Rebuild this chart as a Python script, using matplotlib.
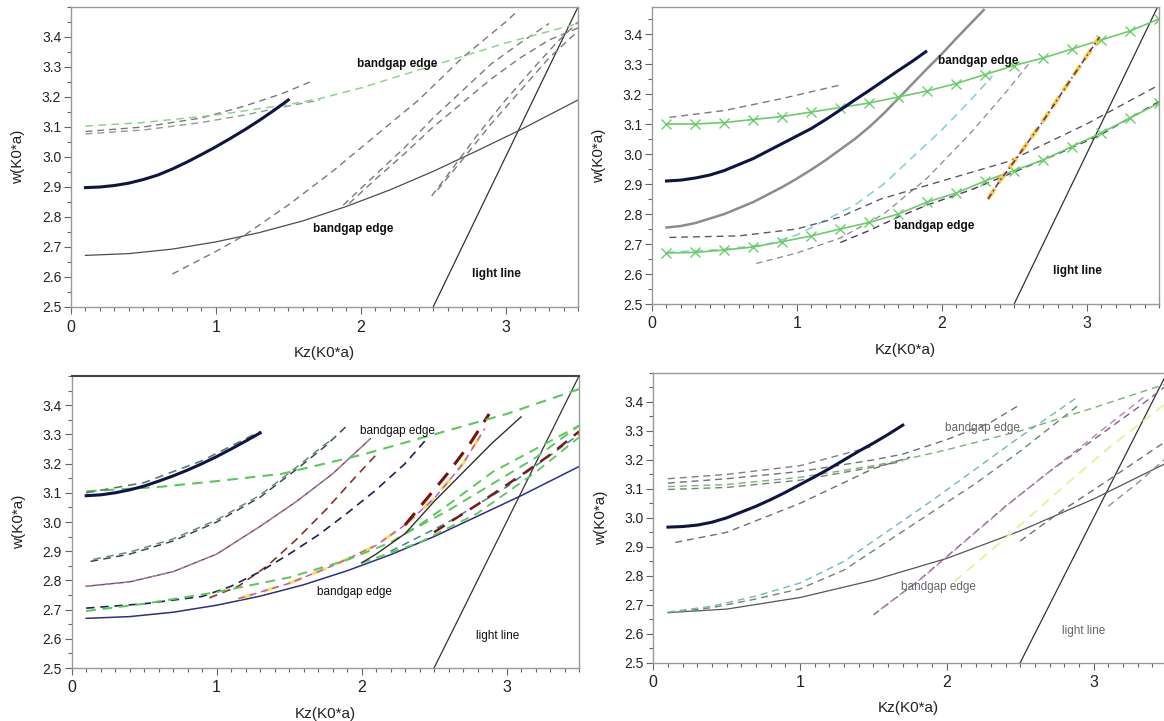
import matplotlib
matplotlib.use("Agg")
import matplotlib.pyplot as plt
from matplotlib.ticker import MultipleLocator, FixedLocator

plt.rcParams["font.family"] = ["Liberation Sans", "DejaVu Sans"]

# ---------------- data ----------------
light_kz = [2.5, 3.5]
light_w = [2.5, 3.5]

# panel 1 (top left)
p1_navy_kz = [0.1, 0.2, 0.3, 0.4, 0.5, 0.6, 0.7, 0.8, 0.9, 1.0, 1.1, 1.2, 1.3, 1.4, 1.5]
p1_navy_w = [2.898, 2.900, 2.905, 2.913, 2.925, 2.94, 2.96, 2.983, 3.008, 3.034, 3.062,
             3.091, 3.122, 3.155, 3.19]
p1_edge_kz = [0.1, 0.4, 0.7, 1.0, 1.3, 1.6, 1.9, 2.2, 2.5, 2.8, 3.1, 3.5]
p1_edge_w = [2.672, 2.678, 2.693, 2.717, 2.748, 2.787, 2.835, 2.89, 2.952, 3.02, 3.09, 3.19]
p1_green_kz = [0.1, 0.5, 1.0, 1.5, 1.72, 2.0, 2.5, 3.0, 3.5]
p1_green_w = [3.103, 3.115, 3.14, 3.175, 3.195, 3.23, 3.305, 3.38, 3.445]
p1_da_kz = [0.1, 0.5, 0.9, 1.2, 1.45, 1.65]
p1_da_w = [3.085, 3.10, 3.13, 3.17, 3.21, 3.25]
p1_db_kz = [0.1, 0.5, 0.9, 1.2, 1.5, 1.72]
p1_db_w = [3.077, 3.09, 3.115, 3.14, 3.17, 3.19]
p1_dc_kz = [0.7, 1.0, 1.2, 1.5, 1.8, 2.1, 2.4, 2.7, 3.0, 3.09]
p1_dc_w = [2.61, 2.685, 2.74, 2.84, 2.95, 3.07, 3.19, 3.33, 3.45, 3.49]
p1_dd_kz = [1.88, 2.1, 2.3, 2.5, 2.7, 2.9, 3.1, 3.3]
p1_dd_w = [2.84, 2.94, 3.03, 3.13, 3.22, 3.31, 3.38, 3.445]
p1_de_kz = [1.92, 2.1, 2.3, 2.5, 2.7, 2.9, 3.1, 3.3, 3.5]
p1_de_w = [2.845, 2.925, 3.01, 3.10, 3.18, 3.26, 3.33, 3.39, 3.43]
p1_df_kz = [2.49, 2.6, 2.8, 3.0, 3.2, 3.35, 3.5]
p1_df_w = [2.87, 2.94, 3.07, 3.19, 3.30, 3.38, 3.45]
p1_dg_kz = [2.53, 2.7, 2.9, 3.1, 3.3, 3.5]
p1_dg_w = [2.89, 2.99, 3.11, 3.22, 3.33, 3.42]

# panel 2 (top right)
p2_navy_kz = [0.1, 0.2, 0.3, 0.4, 0.5, 0.6, 0.7, 0.8, 0.9, 1.0, 1.1, 1.2, 1.3, 1.4, 1.5,
              1.6, 1.7, 1.8, 1.89]
p2_navy_w = [2.91, 2.913, 2.92, 2.93, 2.945, 2.965, 2.985, 3.01, 3.035, 3.06, 3.085, 3.115,
             3.147, 3.18, 3.212, 3.245, 3.278, 3.31, 3.341]
p2_gray_kz = [0.1, 0.2, 0.3, 0.4, 0.5, 0.6, 0.7, 0.8, 0.9, 1.0, 1.1, 1.2, 1.3, 1.4, 1.5,
              1.6, 1.7, 1.8, 1.9, 2.0, 2.1, 2.2, 2.29]
p2_gray_w = [2.755, 2.76, 2.77, 2.785, 2.80, 2.82, 2.84, 2.865, 2.89, 2.918, 2.948, 2.98,
             3.015, 3.05, 3.09, 3.135, 3.185, 3.235, 3.285, 3.333, 3.385, 3.435, 3.48]
p2_gx_kz = [0.1, 0.3, 0.5, 0.7, 0.9, 1.1, 1.3, 1.5, 1.7, 1.9, 2.1, 2.3, 2.5, 2.7, 2.9, 3.1, 3.3, 3.5]
p2_gx_up_w = [3.10, 3.10, 3.105, 3.115, 3.125, 3.14, 3.155, 3.17, 3.19, 3.21, 3.235, 3.265,
              3.295, 3.32, 3.35, 3.38, 3.41, 3.45]
p2_gx_lo_w = [2.67, 2.672, 2.68, 2.69, 2.708, 2.727, 2.75, 2.772, 2.80, 2.84, 2.87, 2.91,
              2.945, 2.98, 3.025, 3.07, 3.12, 3.17]
p2_dup_kz = [0.12, 0.5, 0.9, 1.3]
p2_dup_w = [3.122, 3.145, 3.185, 3.23]
p2_teal_kz = [0.1, 0.5, 0.8, 1.0, 1.2, 1.4, 1.6, 1.8, 2.0, 2.2, 2.35]
p2_teal_w = [2.672, 2.682, 2.70, 2.73, 2.78, 2.83, 2.90, 2.99, 3.08, 3.18, 3.26]
p2_dg_kz = [0.72, 1.0, 1.3, 1.6, 1.9, 2.2, 2.45, 2.6]
p2_dg_w = [2.635, 2.67, 2.72, 2.80, 2.92, 3.07, 3.21, 3.30]
p2_flat_kz = [0.12, 0.6, 1.0, 1.3, 1.58, 2.0, 2.46, 3.0, 3.5]
p2_flat_w = [2.722, 2.727, 2.75, 2.79, 2.85, 2.91, 2.975, 3.10, 3.23]
p2_purp_kz = [1.3, 1.5, 1.7, 1.9, 2.2, 2.5, 2.8, 3.1, 3.5]
p2_purp_w = [2.705, 2.745, 2.79, 2.83, 2.88, 2.94, 3.00, 3.065, 3.175]
p2_yel_kz = [2.32, 2.4, 2.5, 2.7, 2.9, 3.09]
p2_yel_w = [2.85, 2.91, 2.975, 3.11, 3.255, 3.39]

# panel 3 (bottom left)
p3_navy_kz = [0.1, 0.2, 0.3, 0.4, 0.5, 0.6, 0.7, 0.8, 0.9, 1.0, 1.1, 1.2, 1.3]
p3_navy_w = [3.09, 3.093, 3.10, 3.11, 3.123, 3.14, 3.158, 3.178, 3.20, 3.224, 3.25, 3.277, 3.305]
p3_navyd_kz = [0.1, 0.5, 0.9, 1.3]
p3_navyd_w = [3.10, 3.135, 3.21, 3.31]
p3_green_kz = [0.1, 0.6, 1.0, 1.45, 2.0, 2.5, 3.0, 3.5]
p3_green_w = [3.105, 3.12, 3.14, 3.165, 3.23, 3.30, 3.37, 3.455]
p3_d1_kz = [0.13, 0.4, 0.7, 1.0, 1.3, 1.55, 1.75, 1.9]
p3_d1_w = [2.865, 2.89, 2.935, 3.0, 3.085, 3.18, 3.26, 3.33]
p3_d1b_kz = [0.15, 0.4, 0.7, 1.0, 1.3, 1.55, 1.75, 1.82]
p3_d1b_w = [2.872, 2.897, 2.942, 3.007, 3.092, 3.187, 3.267, 3.29]
p3_mauve_kz = [0.1, 0.4, 0.7, 1.0, 1.3, 1.55, 1.8, 2.06]
p3_mauve_w = [2.78, 2.795, 2.83, 2.89, 2.985, 3.07, 3.165, 3.285]
p3_red_kz = [0.95, 1.15, 1.35, 1.55, 1.75, 1.95, 2.1]
p3_red_w = [2.74, 2.78, 2.85, 2.94, 3.04, 3.15, 3.23]
p3_nd_kz = [0.1, 0.5, 0.9, 1.1, 1.3, 1.5, 1.7, 1.9, 2.1, 2.3, 2.45]
p3_nd_w = [2.705, 2.72, 2.745, 2.78, 2.83, 2.89, 2.955, 3.03, 3.11, 3.20, 3.285]
p3_gl_kz = [0.1, 0.5, 1.0, 1.5, 1.9, 2.2, 2.4, 2.6, 2.9, 3.2, 3.5]
p3_gl_w = [2.695, 2.72, 2.76, 2.81, 2.87, 2.93, 2.99, 3.06, 3.17, 3.25, 3.33]
p3_edge_kz = [0.1, 0.4, 0.7, 1.0, 1.3, 1.6, 1.9, 2.2, 2.5, 2.8, 3.1, 3.5]
p3_edge_w = [2.67, 2.676, 2.691, 2.715, 2.746, 2.785, 2.833, 2.888, 2.95, 3.02, 3.09, 3.19]
p3_pink_kz = [1.15, 1.5, 1.8, 2.1, 2.3, 2.5, 2.7, 2.85]
p3_pink_w = [2.737, 2.79, 2.85, 2.92, 2.99, 3.08, 3.20, 3.32]
p3_thick_kz = [2.3, 2.45, 2.6, 2.75, 2.88]
p3_thick_w = [2.99, 3.08, 3.17, 3.27, 3.37]
p3_wavy_kz = [2.0, 2.1, 2.3, 2.5, 2.7, 2.9, 3.1]
p3_wavy_w = [2.86, 2.89, 2.96, 3.07, 3.17, 3.27, 3.36]
p3_rb_kz = [2.5, 2.8, 3.1, 3.3, 3.5]
p3_rb_w = [2.965, 3.06, 3.16, 3.23, 3.31]
p3_g2_kz = [2.3, 2.6, 2.9, 3.2, 3.5]
p3_g2_w = [2.96, 3.04, 3.13, 3.22, 3.33]
p3_g3_kz = [2.0, 2.4, 2.8, 3.2, 3.5]
p3_g3_w = [2.86, 2.93, 3.03, 3.17, 3.29]
p3_teal_kz = [2.2, 2.6, 3.0, 3.5]
p3_teal_w = [2.90, 3.00, 3.12, 3.30]

# panel 4 (bottom right)
p4_navy_kz = [0.1, 0.2, 0.3, 0.4, 0.5, 0.6, 0.7, 0.8, 0.9, 1.0, 1.1, 1.2, 1.3, 1.4, 1.5, 1.6, 1.7]
p4_navy_w = [2.968, 2.97, 2.975, 2.985, 3.0, 3.02, 3.04, 3.063, 3.088, 3.115, 3.142, 3.17,
             3.2, 3.23, 3.258, 3.288, 3.32]
p4_edge_kz = [0.1, 0.5, 1.0, 1.5, 2.0, 2.5, 3.0, 3.48]
p4_edge_w = [2.673, 2.685, 2.725, 2.785, 2.86, 2.955, 3.065, 3.185]
p4_u1_kz = [0.1, 0.5, 1.0, 1.48]
p4_u1_w = [3.135, 3.15, 3.18, 3.245]
p4_u2_kz = [0.1, 0.5, 1.0, 1.5, 1.7, 2.0, 2.3, 2.48]
p4_u2_w = [3.12, 3.135, 3.16, 3.20, 3.22, 3.27, 3.33, 3.385]
p4_u3_kz = [0.1, 0.5, 1.0, 1.5, 1.7, 2.0, 2.5, 3.0, 3.48]
p4_u3_w = [3.108, 3.115, 3.14, 3.18, 3.20, 3.235, 3.30, 3.38, 3.46]
p4_u4_kz = [0.1, 0.5, 1.0, 1.5, 1.7]
p4_u4_w = [3.098, 3.105, 3.13, 3.175, 3.195]
p4_lo_kz = [0.15, 0.5, 1.0, 1.5, 1.75]
p4_lo_w = [2.915, 2.95, 3.05, 3.17, 3.21]
p4_t1_kz = [0.1, 0.4, 0.7, 1.0, 1.3, 1.6, 1.9, 2.2, 2.5, 2.7, 2.9]
p4_t1_w = [2.675, 2.695, 2.73, 2.775, 2.85, 2.955, 3.06, 3.17, 3.28, 3.35, 3.42]
p4_t2_kz = [0.1, 0.4, 0.7, 1.0, 1.3, 1.6, 1.9, 2.2, 2.5, 2.7, 2.9]
p4_t2_w = [2.672, 2.69, 2.72, 2.755, 2.82, 2.92, 3.02, 3.12, 3.23, 3.31, 3.39]
p4_m1_kz = [1.5, 1.8, 2.1, 2.4, 2.7, 3.0, 3.3, 3.48]
p4_m1_w = [2.665, 2.78, 2.91, 3.04, 3.16, 3.27, 3.38, 3.45]
p4_m2_kz = [1.55, 1.85, 2.15, 2.45, 2.75, 3.05, 3.35]
p4_m2_w = [2.685, 2.80, 2.93, 3.06, 3.18, 3.30, 3.42]
p4_yel_kz = [2.05, 2.4, 2.8, 3.1, 3.48]
p4_yel_w = [2.78, 2.93, 3.11, 3.24, 3.39]
p4_g1_kz = [2.5, 2.8, 3.1, 3.48]
p4_g1_w = [2.92, 3.03, 3.13, 3.26]
p4_g2_kz = [3.1, 3.3, 3.48]
p4_g2_w = [3.04, 3.12, 3.20]

x_ticks = [0, 1, 2, 3]
y_ticks = [2.5, 2.6, 2.7, 2.8, 2.9, 3.0, 3.1, 3.2, 3.3, 3.4]

# ---------------- styles ----------------
NAVY = "#0f1445"
GRAY = "#7a7a7a"
DGRAY = "#4d4d4d"
PGREEN = "#8ed38e"
GREEN = "#6ccc6c"
TEAL = "#86d3d3"
DASH = (0, (5, 3.5))

thick = dict(color=NAVY, lw=2.2, ls="-")
edge = dict(color=DGRAY, lw=0.9, ls="-")
gdash = dict(color=GRAY, lw=1.0, ls=DASH)
pgdash = dict(color=PGREEN, lw=1.1, ls=DASH)

W, H = 1164, 721
fig = plt.figure(figsize=(W / 100, H / 100), dpi=100)


def make_ax(left, right, top, bottom, xmax, ymax):
    ax = fig.add_axes([left / W, 1 - bottom / H, (right - left) / W, (bottom - top) / H])
    ax.set_xlim(0, xmax)
    ax.set_ylim(2.5, ymax)
    ax.xaxis.set_major_locator(FixedLocator(x_ticks))
    ax.yaxis.set_major_locator(FixedLocator(y_ticks))
    ax.xaxis.set_minor_locator(MultipleLocator(0.1))
    ax.yaxis.set_minor_locator(MultipleLocator(0.05))
    ax.tick_params(which="both", direction="out", color="#666666", width=0.8)
    ax.tick_params(which="major", length=5)
    ax.tick_params(which="minor", length=3)
    ax.tick_params(axis="x", labelsize=11.5, pad=4, colors="#222222")
    ax.tick_params(axis="y", labelsize=10, pad=2, colors="#222222")
    ax.tick_params(axis="both", which="both", color="#666666")
    for s in ax.spines.values():
        s.set_color("#999999")
        s.set_linewidth(1.0)
    ax.set_xlabel("Kz(K0*a)", fontsize=11, color="#222222", labelpad=8)
    ax.set_ylabel("w(K0*a)", fontsize=11, color="#222222", labelpad=12)
    ax.plot(light_kz, light_w, color="#333333", lw=0.9)
    return ax


def labels(ax, weight="bold", color="#111111", up=(2.25, 3.31), lo=(1.95, 2.76), ll=(2.94, 2.61)):
    kw = dict(fontsize=8.5, fontweight=weight, color=color, ha="center", va="center")
    ax.text(up[0], up[1], "bandgap edge", **kw)
    ax.text(lo[0], lo[1], "bandgap edge", **kw)
    ax.text(ll[0], ll[1], "light line", **kw)


# ---- panel 1 ----
ax1 = make_ax(71, 578, 7, 307, 3.5, 3.5)
ax1.plot(p1_edge_kz, p1_edge_w, **edge)
for kz, w in [(p1_da_kz, p1_da_w), (p1_dc_kz, p1_dc_w), (p1_dd_kz, p1_dd_w),
              (p1_de_kz, p1_de_w), (p1_df_kz, p1_df_w), (p1_dg_kz, p1_dg_w)]:
    ax1.plot(kz, w, **gdash)
ax1.plot(p1_db_kz, p1_db_w, color="#8aa08a", lw=1.0, ls=DASH)
ax1.plot(p1_green_kz, p1_green_w, **pgdash)
ax1.plot(p1_navy_kz, p1_navy_w, **thick)
labels(ax1)

# ---- panel 2 ----
ax2 = make_ax(652, 1159, 7, 304, 3.5, 3.49)
ax2.plot(p2_gray_kz, p2_gray_w, color="#8c8c8c", lw=1.8)
ax2.plot(p2_dup_kz, p2_dup_w, **gdash)
ax2.plot(p2_dg_kz, p2_dg_w, color="#8a8a8a", lw=0.9, ls=DASH)
ax2.plot(p2_teal_kz, p2_teal_w, color=TEAL, lw=1.2, ls=DASH)
ax2.plot(p2_flat_kz, p2_flat_w, color="#5a5a6a", lw=1.0, ls=DASH)
ax2.plot(p2_purp_kz, p2_purp_w, color="#4a3a5a", lw=1.0, ls=DASH)
for wv in (p2_gx_up_w, p2_gx_lo_w):
    ax2.plot(p2_gx_kz, wv, color=GREEN, lw=1.2, marker="x", ms=7, mew=1.0)
ax2.plot(p2_yel_kz, p2_yel_w, color="#f2d23c", lw=3.0, ls=(0, (3, 1.5)))
ax2.plot(p2_yel_kz, p2_yel_w, color="#6a1f8a", lw=1.1, ls=(0, (4, 2, 1, 2)))
ax2.plot(p2_navy_kz, p2_navy_w, **thick)
labels(ax2)

# ---- panel 3 ----
ax3 = make_ax(71.7, 579, 376, 668, 3.5, 3.5)
ax3.spines["top"].set_color("#444444")
ax3.spines["top"].set_linewidth(1.5)
ax3.plot(p3_edge_kz, p3_edge_w, color="#2b2f86", lw=1.1)
ax3.plot(p3_pink_kz, p3_pink_w, color="#f0e060", lw=2.2, ls=DASH)
ax3.plot(p3_pink_kz, p3_pink_w, color="#c050c0", lw=1.0, ls=DASH)
ax3.plot(p3_mauve_kz, p3_mauve_w, color="#6a4a6a", lw=1.0)
ax3.plot(p3_mauve_kz, p3_mauve_w, color="#c080b0", lw=0.8, ls=DASH)
ax3.plot(p3_red_kz, p3_red_w, color="#8a3030", lw=1.2, ls=DASH)
ax3.plot(p3_nd_kz, p3_nd_w, color="#1e2450", lw=1.2, ls=DASH)
ax3.plot(p3_gl_kz, p3_gl_w, color="#5ac85a", lw=1.4, ls=DASH)
ax3.plot(p3_g3_kz, p3_g3_w, color="#5ac85a", lw=1.3, ls=DASH)
ax3.plot(p3_teal_kz, p3_teal_w, color="#3a8a8a", lw=1.1, ls=DASH)
ax3.plot(p3_g2_kz, p3_g2_w, color="#5ac85a", lw=1.4, ls=DASH)
ax3.plot(p3_rb_kz, p3_rb_w, color="#7a1a1a", lw=1.8, ls=DASH)
ax3.plot(p3_wavy_kz, p3_wavy_w, color="#303030", lw=1.0)
ax3.plot(p3_thick_kz, p3_thick_w, color="#7a1010", lw=2.2, ls=DASH)
ax3.plot(p3_d1_kz, p3_d1_w, color="#3a4a50", lw=1.1, ls=DASH)
ax3.plot(p3_d1b_kz, p3_d1b_w, color="#6a8a7a", lw=1.1, ls=DASH)
ax3.plot(p3_green_kz, p3_green_w, color="#5ac85a", lw=1.5, ls=DASH)
ax3.plot(p3_navyd_kz, p3_navyd_w, color="#5a7a6a", lw=1.2, ls=DASH)
ax3.plot(p3_navy_kz, p3_navy_w, **thick)
labels(ax3, weight="normal")

# ---- panel 4 ----
ax4 = make_ax(653.3, 1164, 373, 662.7, 3.48, 3.5)
ax4.spines["right"].set_visible(False)
ax4.plot(p4_edge_kz, p4_edge_w, color="#555555", lw=0.9)
ax4.plot(p4_yel_kz, p4_yel_w, color="#e8f0a0", lw=1.4, ls=DASH)
for kz, w, c in [(p4_m1_kz, p4_m1_w, "#8a5a8a"), (p4_m2_kz, p4_m2_w, "#b08ab0"),
                 (p4_g1_kz, p4_g1_w, "#707070"), (p4_g2_kz, p4_g2_w, "#7a9a8a"),
                 (p4_t2_kz, p4_t2_w, "#6a8a6a"), (p4_t1_kz, p4_t1_w, "#70b8c0"),
                 (p4_u1_kz, p4_u1_w, "#808080"), (p4_u2_kz, p4_u2_w, "#707080"),
                 (p4_u3_kz, p4_u3_w, "#7ab07a"), (p4_u4_kz, p4_u4_w, "#6a8a6a"),
                 (p4_lo_kz, p4_lo_w, "#707070")]:
    ax4.plot(kz, w, color=c, lw=1.0, ls=DASH)
ax4.plot(p4_navy_kz, p4_navy_w, **thick)
labels(ax4, weight="normal", color="#666666", up=(2.24, 3.31), lo=(1.94, 2.762), ll=(2.93, 2.61))

fig.savefig("out.png", dpi=100)
